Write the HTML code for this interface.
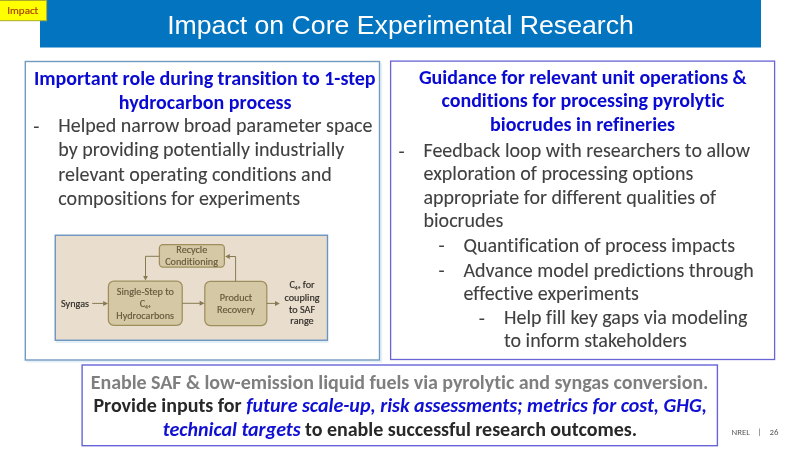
<!DOCTYPE html>
<html>
<head>
<meta charset="utf-8">
<style>
html,body{margin:0;padding:0;background:#fff;width:800px;height:450px;overflow:hidden}
svg{display:block}
text{font-family:"Carlito","Liberation Sans",sans-serif;font-variant-ligatures:none;font-feature-settings:"liga" 0,"clig" 0,"dlig" 0}
.t{font-family:"Liberation Sans",Arial,sans-serif;font-size:26.67px;fill:#fff}
.h{font-weight:bold;font-size:20px;fill:#0A0AD2}
.b{font-size:20px;fill:#404040;stroke:#404040;stroke-width:0.08px}
.g{font-weight:bold;font-size:20px;fill:#7F7F7F}
.k{font-weight:bold;font-size:20px;fill:#282828}
.bi{font-style:italic;fill:#1010D4}
.d{font-size:10.2px;fill:#66593C;stroke:#66593C;stroke-width:0.15px}
.dk{font-size:10.2px;fill:#2E2A24;stroke:#2E2A24;stroke-width:0.15px}
.n{font-size:8.8px;fill:#595959}
</style>
</head>
<body>
<svg width="800" height="450" viewBox="0 0 800 450">
  <!-- title bar -->
  <rect x="40" y="0" width="721" height="47.5" fill="#0274C0"/>
  <text class="t" x="400.5" y="33.75" text-anchor="middle" textLength="466.70" lengthAdjust="spacingAndGlyphs">Impact on Core Experimental Research</text>

  <!-- Impact tag -->
  <rect x="-1" y="0.5" width="47.6" height="20.2" fill="#FFFF00" stroke="#ABAB2A" stroke-width="1"/>
  <text x="7.3" y="14" style="font-size:11px;fill:#A84400;stroke:#A84400;stroke-width:0.2px" textLength="30.95" lengthAdjust="spacingAndGlyphs">Impact</text>

  <!-- left box -->
  <rect x="380.3" y="63" width="2" height="298.5" fill="#E6F2FA"/>
  <rect x="26.5" y="360.5" width="355.5" height="2" fill="#E3F0F8"/>
  <rect x="25.3" y="61.5" width="354.2" height="298.5" fill="#fff" stroke="#7299C0" stroke-width="1.4"/>
  <text class="h" x="34" y="85" textLength="341.6" lengthAdjust="spacing">Important role during transition to 1-step</text>
  <text class="h" x="205.2" y="108.6" text-anchor="middle" textLength="172.69" lengthAdjust="spacingAndGlyphs">hydrocarbon process</text>
  <text class="b" x="33.3" y="132.6" textLength="6.12" lengthAdjust="spacingAndGlyphs">-</text>
  <text class="b" x="58.3" y="132.1" textLength="314.11" lengthAdjust="spacingAndGlyphs">Helped narrow broad parameter space</text>
  <text class="b" x="58.3" y="156.4" textLength="286.00" lengthAdjust="spacingAndGlyphs">by providing potentially industrially</text>
  <text class="b" x="58.3" y="180.6" textLength="273.39" lengthAdjust="spacingAndGlyphs">relevant operating conditions and</text>
  <text class="b" x="58.3" y="204.8" textLength="241.80" lengthAdjust="spacingAndGlyphs">compositions for experiments</text>

  <!-- diagram -->
  <rect x="56" y="341" width="272.5" height="2" fill="#E4EFF7"/>
  <rect x="55.25" y="235.25" width="272.25" height="105" fill="#E9DECE" stroke="#6B93BE" stroke-width="1.4"/>
  <g fill="#D5C8A5" stroke="#9E8E5E" stroke-width="1.25">
    <rect x="159.4" y="244.7" width="65" height="22.4" rx="3.5"/>
    <rect x="108.4" y="281.2" width="73.8" height="44.2" rx="5.5"/>
    <rect x="204.8" y="281.4" width="62" height="44.2" rx="5.5"/>
  </g>
  <g fill="none" stroke="#877A52" stroke-width="1">
    <polyline points="159.4,256.3 145.5,256.3 145.5,276.5"/>
    <polyline points="235.6,281.4 235.6,256.5 229,256.5"/>
    <line x1="92.2" y1="303.4" x2="104" y2="303.4"/>
    <line x1="182.2" y1="303.3" x2="200" y2="303.3"/>
    <line x1="266.8" y1="303.4" x2="275.5" y2="303.4"/>
  </g>
  <g fill="#877A52">
    <polygon points="143.1,276 147.9,276 145.5,280.6"/>
    <polygon points="229.8,254 229.8,258.9 225.1,256.45"/>
    <polygon points="103.2,300.9 103.2,305.9 108,303.4"/>
    <polygon points="199.6,300.8 199.6,305.8 204.6,303.3"/>
    <polygon points="275,300.9 275,305.9 279.8,303.4"/>
  </g>
  <text class="d" x="191.8" y="253.4" text-anchor="middle" textLength="30.94" lengthAdjust="spacingAndGlyphs">Recycle</text>
  <text class="d" x="191.6" y="264.8" text-anchor="middle" textLength="52.81" lengthAdjust="spacingAndGlyphs">Conditioning</text>
  <text class="d" x="145.4" y="294.8" text-anchor="middle" textLength="57.09" lengthAdjust="spacingAndGlyphs">Single-Step to</text>
  <text class="d" x="145.2" y="307" text-anchor="middle" textLength="11.06" lengthAdjust="spacingAndGlyphs">C<tspan font-size="5.6" dy="1.8">4+</tspan></text>
  <text class="d" x="145.2" y="318.6" text-anchor="middle" textLength="57.67" lengthAdjust="spacingAndGlyphs">Hydrocarbons</text>
  <text class="d" x="236" y="300.6" text-anchor="middle" textLength="32.45" lengthAdjust="spacingAndGlyphs">Product</text>
  <text class="d" x="236" y="312.9" text-anchor="middle" textLength="37.77" lengthAdjust="spacingAndGlyphs">Recovery</text>
  <text class="dk" x="61" y="306.5" textLength="28.00" lengthAdjust="spacingAndGlyphs">Syngas</text>
  <text class="dk" x="302" y="288.2" text-anchor="middle" textLength="25.19" lengthAdjust="spacingAndGlyphs">C<tspan font-size="5.6" dy="1.8">4+</tspan><tspan dy="-1.8"> for</tspan></text>
  <text class="dk" x="302" y="300.8" text-anchor="middle" textLength="35.12" lengthAdjust="spacingAndGlyphs">coupling</text>
  <text class="dk" x="302" y="312.6" text-anchor="middle" textLength="26.17" lengthAdjust="spacingAndGlyphs">to SAF</text>
  <text class="dk" x="302" y="323.9" text-anchor="middle" textLength="23.36" lengthAdjust="spacingAndGlyphs">range</text>

  <!-- right box -->
  <rect x="390.6" y="61.1" width="384" height="298.4" fill="#fff" stroke="#6864D4" stroke-width="1.3"/>
  <text class="h" x="582.8" y="84.1" text-anchor="middle" textLength="327.8" lengthAdjust="spacing">Guidance for relevant unit operations &amp;</text>
  <text class="h" x="583" y="107" text-anchor="middle" textLength="282.9" lengthAdjust="spacing">conditions for processing pyrolytic</text>
  <text class="h" x="582.6" y="131.3" text-anchor="middle" textLength="185.00" lengthAdjust="spacingAndGlyphs">biocrudes in refineries</text>
  <text class="b" x="398.5" y="157.5" textLength="6.12" lengthAdjust="spacingAndGlyphs">-</text>
  <text class="b" x="423.5" y="157" textLength="326.48" lengthAdjust="spacingAndGlyphs">Feedback loop with researchers to allow</text>
  <text class="b" x="423.5" y="180.2" textLength="269.88" lengthAdjust="spacingAndGlyphs">exploration of processing options</text>
  <text class="b" x="423.5" y="203.8" textLength="292.72" lengthAdjust="spacingAndGlyphs">appropriate for different qualities of</text>
  <text class="b" x="423.5" y="227.2" textLength="79.88" lengthAdjust="spacingAndGlyphs">biocrudes</text>
  <text class="b" x="438.5" y="252" textLength="6.12" lengthAdjust="spacingAndGlyphs">-</text>
  <text class="b" x="463.5" y="252.4" textLength="271.48" lengthAdjust="spacingAndGlyphs">Quantification of process impacts</text>
  <text class="b" x="438.5" y="277.1" textLength="6.12" lengthAdjust="spacingAndGlyphs">-</text>
  <text class="b" x="463.5" y="276.5" textLength="290.19" lengthAdjust="spacingAndGlyphs">Advance model predictions through</text>
  <text class="b" x="463.5" y="300" textLength="175.41" lengthAdjust="spacingAndGlyphs">effective experiments</text>
  <text class="b" x="478.8" y="325" textLength="6.12" lengthAdjust="spacingAndGlyphs">-</text>
  <text class="b" x="504" y="324.3" textLength="243.47" lengthAdjust="spacingAndGlyphs">Help fill key gaps via modeling</text>
  <text class="b" x="504" y="347.4" textLength="182.84" lengthAdjust="spacingAndGlyphs">to inform stakeholders</text>

  <!-- bottom box -->
  <rect x="82.1" y="365" width="635.3" height="80.7" fill="#fff" stroke="#6664D8" stroke-width="1.4"/>
  <text class="g" x="399.65" y="389" text-anchor="middle" textLength="617.6" lengthAdjust="spacing">Enable SAF &amp; low-emission liquid fuels via pyrolytic and syngas conversion.</text>
  <text class="k" x="400.1" y="412" text-anchor="middle" textLength="613.44" lengthAdjust="spacingAndGlyphs">Provide inputs for <tspan class="bi">future scale-up, risk assessments; metrics for cost, GHG,</tspan></text>
  <text class="k" x="399.9" y="436" text-anchor="middle" textLength="474.2" lengthAdjust="spacing"><tspan class="bi">technical targets</tspan> to enable successful research outcomes.</text>

  <!-- footer -->
  <text class="n" x="731.6" y="435.4" textLength="18.45" lengthAdjust="spacingAndGlyphs">NREL</text>
  <text class="n" x="759.5" y="435.4" text-anchor="middle" textLength="4.06" lengthAdjust="spacingAndGlyphs">|</text>
  <text class="n" x="769.6" y="435.4" textLength="8.92" lengthAdjust="spacingAndGlyphs">26</text>
</svg>
</body>
</html>
